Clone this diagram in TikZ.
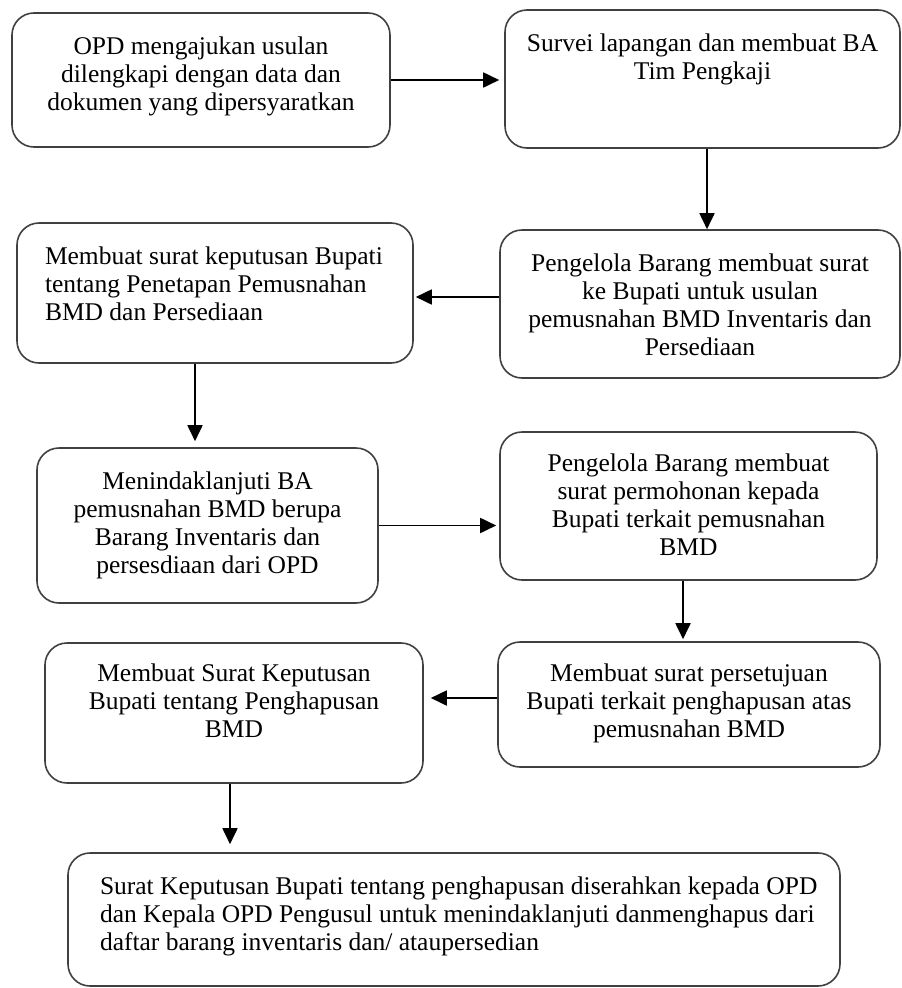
\documentclass[tikz,border=0pt]{standalone}
\usepackage{fontspec}
\setmainfont{Liberation Serif}
\usetikzlibrary{arrows.meta}

\newcommand{\boxtxt}[5]{\parbox[c][#2][t]{#1}{#3\vspace*{#4}\strut #5}}

\tikzset{
	stepbox/.style = {draw = black!75, line width = 1.6pt, rounded corners = 22pt, inner sep = 0pt, font = \fontsize{25.5}{28}\selectfont},
	flow/.style = {line width = 1.8pt, -{Triangle[length = 16pt, width = 15pt]}}
}

\begin{document}
\begin{tikzpicture}[x = 1pt, y = -1pt]
	\useasboundingbox (0,0) rectangle (902,988);
	\node[stepbox] (b1) at (201,80) {\boxtxt{378pt}{134pt}{\centering}{22pt}{OPD mengajukan usulan\\ dilengkapi dengan data dan\\ dokumen yang dipersyaratkan}};
	\node[stepbox] (b2) at (702.5,79) {\boxtxt{395pt}{138pt}{\centering}{22pt}{Survei lapangan dan membuat BA\\ Tim Pengkaji}};
	\node[stepbox] (b3) at (700,304) {\boxtxt{400pt}{148pt}{\centering}{22pt}{Pengelola Barang membuat surat\\ ke Bupati untuk usulan\\ pemusnahan BMD Inventaris dan\\ Persediaan}};
	\node[stepbox] (b4) at (215,293) {\boxtxt{396pt}{140pt}{\raggedright\leftskip = 28pt\relax}{22pt}{Membuat surat keputusan Bupati\\ tentang Penetapan Pemusnahan\\ BMD dan Persediaan}};
	\node[stepbox] (b5) at (207.5,525.5) {\boxtxt{341pt}{155pt}{\centering}{22pt}{Menindaklanjuti BA\\ pemusnahan BMD berupa\\ Barang Inventaris dan\\ persesdiaan dari OPD}};
	\node[stepbox] (b6) at (688.5,506) {\boxtxt{377pt}{148pt}{\centering}{20pt}{Pengelola Barang membuat\\ surat permohonan kepada\\ Bupati terkait pemusnahan\\ BMD}};
	\node[stepbox] (b7) at (689,704.5) {\boxtxt{382pt}{125pt}{\centering}{20pt}{Membuat surat persetujuan\\ Bupati terkait penghapusan atas\\ pemusnahan BMD}};
	\node[stepbox] (b8) at (234,713) {\boxtxt{378pt}{140pt}{\centering}{19pt}{Membuat Surat Keputusan\\ Bupati tentang Penghapusan\\ BMD}};
	\node[stepbox] (b9) at (454,919.5) {\boxtxt{772pt}{133pt}{\raggedright\leftskip = 32pt\relax}{22pt}{Surat Keputusan Bupati tentang penghapusan diserahkan kepada OPD\\ dan Kepala OPD Pengusul  untuk menindaklanjuti danmenghapus dari\\ daftar barang inventaris dan/ ataupersedian}};

	\draw[flow, shorten >= 5pt] (b1.east) -- (b1.east -| b2.west);
	\draw[flow] ([xshift = 4.5pt]b2.south) -- ([xshift = 4.5pt]b2.south |- b3.north);
	\draw[flow, shorten >= 2pt] ([yshift = 7pt]b3.west) -- ([yshift = 7pt]b3.west -| b4.east);
	\draw[flow, shorten >= 6pt] ([xshift = -20pt]b4.south) -- ([xshift = -20pt]b4.south |- b5.north);
	\draw[flow, shorten >= 3pt] (b5.east) -- (b5.east -| b6.west);
	\draw[flow, shorten >= 2pt] ([xshift = -5.5pt]b6.south) -- ([xshift = -5.5pt]b6.south |- b7.north);
	\draw[flow, shorten >= 7pt] ([yshift = 6.5pt]b7.west) -- ([yshift = 6.5pt]b7.west -| b8.east);
	\draw[flow, shorten >= 8pt] ([xshift = -4pt]b8.south) -- ([xshift = -4pt]b8.south |- b9.north);
\end{tikzpicture}
\end{document}
